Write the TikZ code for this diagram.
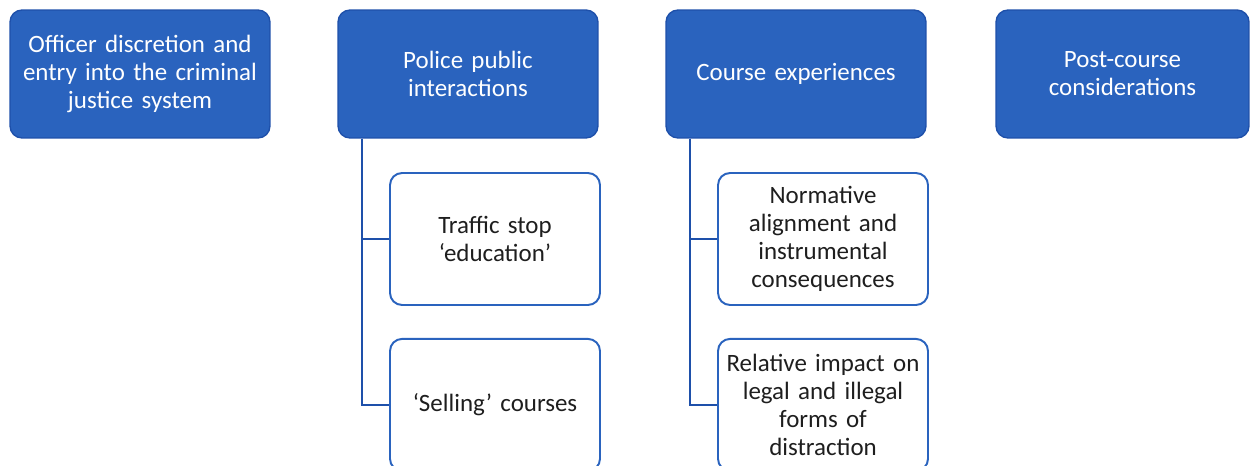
\documentclass[tikz,border=0pt]{standalone}
\usepackage{fontspec}
\setmainfont{Carlito}
\usetikzlibrary{positioning}
\definecolor{themeblue}{RGB}{42,99,190}
\definecolor{edgeblue}{RGB}{30,80,170}
\definecolor{inktext}{RGB}{30,30,30}
\tikzset{
  theme/.style={draw=edgeblue, fill=themeblue, line width=0.8pt, rounded corners=0.24cm,
    text=white, align=center, text width=4.8cm, minimum width=5.2cm, minimum height=2.56cm,
    font=\fontsize{14.2}{16}\selectfont, inner sep=0pt},
  subtheme/.style={draw=themeblue, fill=white, line width=1.1pt, rounded corners=0.24cm,
    text=inktext, align=center, text width=4cm, minimum width=4.2cm, minimum height=2.64cm,
    font=\fontsize{14.2}{16}\selectfont, inner sep=0pt},
  link/.style={draw=edgeblue, line width=1.1pt}
}
\begin{document}
\begin{tikzpicture}[x=0.02cm,y=-0.02cm]
      \useasboundingbox (0,0) rectangle (1250,466);
      \node[theme] (entry) at (140,74) {Officer discretion and\\ entry into the criminal\\ justice system};
      \node[theme] (police) at (468,74) {Police public\\ interactions};
      \node[theme] (course) at (796,74) {Course experiences};
      \node[theme, minimum width=5.06cm] (post) at (1122.5,74) {Post-course\\ considerations};
      \node[subtheme] (traffic) at (495,239) {Traffic stop\\ ‘education’};
      \node[subtheme, below=0.64cm of traffic] (selling) {‘Selling’ courses};
      \node[subtheme] (norm) at (823,239) {Normative\\ alignment and\\ instrumental\\ consequences};
      \node[subtheme, below=0.64cm of norm] (impact) {Relative impact on\\ legal and illegal\\ forms of\\ distraction};
      \begin{scope}[link]
        \draw ([xshift=0.5cm]police.south west) |- (traffic.west);
        \draw ([xshift=0.5cm]police.south west) |- (selling.west);
        \draw ([xshift=0.5cm]course.south west) |- (norm.west);
        \draw ([xshift=0.5cm]course.south west) |- (impact.west);
      \end{scope}
    \end{tikzpicture}
\end{document}
